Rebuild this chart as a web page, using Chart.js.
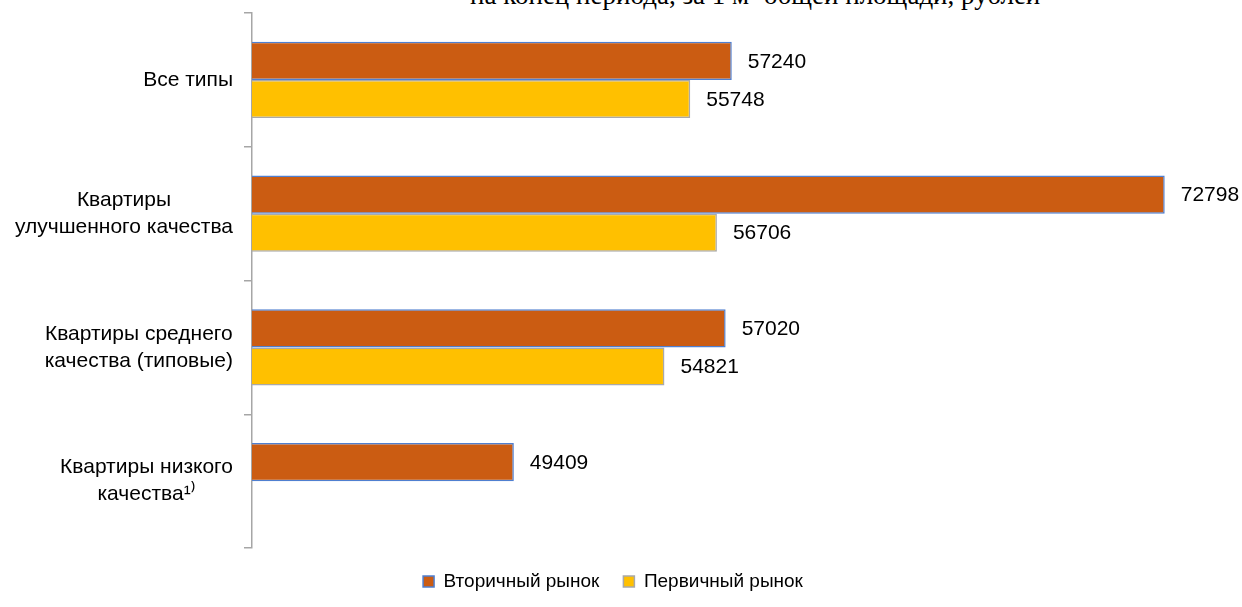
<!DOCTYPE html>
<html>
<head>
<meta charset="utf-8">
<script src="https://cdn.jsdelivr.net/npm/chart.js@4"></script>
<style>
  html, body { margin: 0; padding: 0; background: #fff; overflow: hidden; }
  #wrap { position: relative; width: 1242px; height: 607px; }
  #title {
    position: absolute; left: 470px; top: -20px;
    font-family: 'Liberation Serif', 'Times New Roman', serif;
    font-size: 27px; color: #000; white-space: nowrap;
  }
  canvas { position: absolute; left: 0; top: 0; }
</style>
</head>
<body>
<div id="wrap">
  <div id="title">на конец периода, за 1 м² общей площади, рублей</div>
  <canvas id="chart" width="1242" height="607"></canvas>
</div>
<script>
const categories = [
    ['Все типы'],
    ['Квартиры', 'улучшенного качества'],
    ['Квартиры среднего', 'качества (типовые)'],
    ['Квартиры низкого', 'качества¹⁾'],
];
const secondaryMarket = [57240, 72798, 57020, 49409];
const primaryMarket = [55748, 56706, 54821, null];
const seriesNames = ['Вторичный рынок', 'Первичный рынок'];

const FONT = "'Liberation Sans', Arial, sans-serif";

// value labels to the right of each bar
const valueLabels = {
    id: 'valueLabels',
    afterDatasetsDraw(chart) {
        const ctx = chart.ctx;
        ctx.save();
        ctx.font = '21px ' + FONT;
        ctx.fillStyle = '#000';
        ctx.textAlign = 'left';
        ctx.textBaseline = 'middle';
        chart.data.datasets.forEach((ds, i) => {
            chart.getDatasetMeta(i).data.forEach((bar, j) => {
                if (ds.data[j] == null) return;
                ctx.fillText(String(ds.data[j]), bar.x + 16, bar.y + 1);
            });
        });
        ctx.restore();
    },
};

// category labels: block right-aligned to the axis, lines centred inside
const categoryLabels = {
    id: 'categoryLabels',
    afterDraw(chart) {
        const ctx = chart.ctx;
        const y = chart.scales.y;
        const right = y.right - 19;
        const lineH = 27;
        ctx.save();
        ctx.font = '21px ' + FONT;
        ctx.fillStyle = '#000';
        ctx.textAlign = 'center';
        ctx.textBaseline = 'middle';
        categories.forEach((lines, i) => {
            const w = Math.max(...lines.map(l => ctx.measureText(l).width));
            const cx = right - w / 2;
            const cy = y.getPixelForTick(i);
            lines.forEach((l, k) => {
                ctx.fillText(l, cx, cy + (k - (lines.length - 1) / 2) * lineH);
            });
        });
        ctx.restore();
    },
};

new Chart(document.getElementById('chart'), {
    type: 'bar',
    data: {
        labels: categories,
        datasets: [
            {
                label: seriesNames[0],
                data: secondaryMarket,
                backgroundColor: '#CB5C12',
                borderColor: '#4F7FD0',
                borderWidth: 1.5,
                categoryPercentage: 0.57,
                barPercentage: 1,
            },
            {
                label: seriesNames[1],
                data: primaryMarket,
                backgroundColor: '#FFC000',
                borderColor: '#A9A9A9',
                borderWidth: 1.5,
                categoryPercentage: 0.57,
                barPercentage: 1,
            },
        ],
    },
    options: {
        indexAxis: 'y',
        responsive: false,
        animation: false,
        layout: { padding: { top: 13, left: 0, right: 16, bottom: 6 } },
        scales: {
            x: {
                display: false,
                min: 40000,
                max: 75000,
            },
            y: {
                grid: {
                    display: true,
                    drawOnChartArea: false,
                    drawTicks: true,
                    tickLength: 8,
                    color: '#A6A6A6',
                    lineWidth: 1.5,
                },
                border: { color: '#A6A6A6', width: 1.5 },
                ticks: { display: false },
                afterFit(scale) { scale.width = 252; },
            },
        },
        plugins: {
            legend: {
                position: 'bottom',
                labels: {
                    boxWidth: 11,
                    boxHeight: 11,
                    padding: 24,
                    color: '#000',
                    font: { family: FONT, size: 19 },
                },
            },
            tooltip: { enabled: false },
        },
    },
    plugins: [valueLabels, categoryLabels],
});
</script>
</body>
</html>
